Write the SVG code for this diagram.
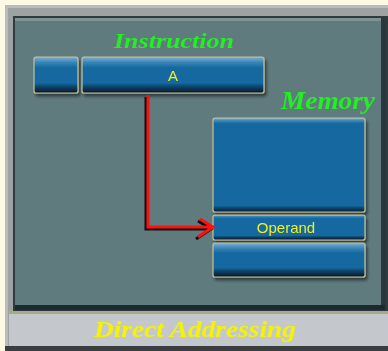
<svg xmlns="http://www.w3.org/2000/svg" width="388" height="351" viewBox="0 0 388 351">
<defs>
<style>
.box{fill:url(#boxg);stroke:#c8c49a;stroke-width:1.2}
.lbl{font-family:"Liberation Sans",Arial,sans-serif;font-size:15px;fill:#f0f020;text-anchor:middle}
.script{font-family:"Liberation Serif","DejaVu Serif",serif;font-style:italic;font-weight:bold;text-anchor:middle}
.arrow{fill:none;stroke-width:3;stroke-linejoin:miter}
</style>
<linearGradient id="boxg" x1="0" y1="0" x2="0" y2="1">
<stop offset="0" stop-color="#7fb0d0"/>
<stop offset="0.06" stop-color="#3a86b8"/>
<stop offset="0.14" stop-color="#1468a0"/>
<stop offset="0.82" stop-color="#1468a0"/>
<stop offset="0.9" stop-color="#0a3a5c"/>
<stop offset="1" stop-color="#04182a"/>
</linearGradient>
<linearGradient id="boxs" x1="0" y1="0" x2="0" y2="1">
<stop offset="0" stop-color="#7fb0d0"/>
<stop offset="0.15" stop-color="#3a86b8"/>
<stop offset="0.3" stop-color="#1468a0"/>
<stop offset="0.72" stop-color="#1468a0"/>
<stop offset="0.86" stop-color="#0a3a5c"/>
<stop offset="1" stop-color="#04182a"/>
</linearGradient>
<linearGradient id="boxt" x1="0" y1="0" x2="0" y2="1">
<stop offset="0" stop-color="#7fb0d0"/>
<stop offset="0.03" stop-color="#3a86b8"/>
<stop offset="0.06" stop-color="#1468a0"/>
<stop offset="0.93" stop-color="#1468a0"/>
<stop offset="0.97" stop-color="#0a3a5c"/>
<stop offset="1" stop-color="#04182a"/>
</linearGradient>
<filter id="sh" x="-10%" y="-10%" width="130%" height="140%">
<feGaussianBlur in="SourceAlpha" stdDeviation="1.5"/>
<feOffset dx="2" dy="3"/>
<feComponentTransfer><feFuncA type="linear" slope="0.5"/></feComponentTransfer>
<feMerge><feMergeNode/><feMergeNode in="SourceGraphic"/></feMerge>
</filter>
<filter id="soft"><feGaussianBlur stdDeviation="0.5"/></filter>
</defs>

<!-- background and frame -->
<rect x="0" y="0" width="388" height="351" fill="#fcfae4"/>
<rect x="5" y="5" width="383" height="346" fill="#9ea2a2"/>
<rect x="5" y="5" width="383" height="3" fill="#b8bcbc"/>
<rect x="5" y="5" width="3" height="346" fill="#b8bcbc"/>
<rect x="5" y="346" width="383" height="5" fill="#3a3e40"/>
<rect x="9" y="310" width="379" height="36" fill="#c4c8cc"/>
<rect x="9" y="310" width="379" height="4" fill="#a8a88a"/>
<rect x="13" y="16" width="375" height="295" fill="#2e3c40"/>
<rect x="15" y="18" width="368" height="289" fill="#5f7b7e"/>
<rect x="15" y="18" width="368" height="3" fill="#7c9496"/>
<rect x="381" y="18" width="5" height="292" fill="#28383c"/>
<rect x="15" y="305" width="370" height="5" fill="#1c2a2e"/>

<!-- titles -->
<text class="script" x="174" y="48" font-size="22" fill="#22f022" filter="url(#soft)" textLength="120" lengthAdjust="spacingAndGlyphs">Instruction</text>
<text class="script" x="328" y="109" font-size="25" fill="#22f022" filter="url(#soft)" textLength="94" lengthAdjust="spacingAndGlyphs">Memory</text>
<text class="script" x="195" y="337" font-size="23" fill="#f4f400" filter="url(#soft)" textLength="202" lengthAdjust="spacingAndGlyphs">Direct Addressing</text>

<!-- instruction nodes -->
<g id="instr-mode" filter="url(#sh)">
<rect class="box" x="34" y="57" width="44" height="36" rx="2" style="fill:url(#boxs)"/>
</g>
<g id="instr-address" filter="url(#sh)">
<rect class="box" x="82" y="57" width="182" height="36" rx="2" style="fill:url(#boxs)"/>
<text class="lbl" x="173" y="81" font-size="16">A</text>
</g>

<!-- memory nodes -->
<g id="mem-top" filter="url(#sh)">
<rect class="box" x="213" y="118" width="152" height="94" rx="2" style="fill:url(#boxt)"/>
</g>
<g id="mem-operand" filter="url(#sh)">
<rect class="box" x="213" y="215" width="152" height="25" rx="2"/>
<text class="lbl" x="286" y="233">Operand</text>
</g>
<g id="mem-bottom" filter="url(#sh)">
<rect class="box" x="213" y="243" width="152" height="34" rx="2" style="fill:url(#boxs)"/>
</g>

<!-- connectors -->
<g id="connectors">
<path class="arrow" stroke="#101010" d="M146,97 V229 H211 M198,221 L211,229 L196,239"/>
<path class="arrow" stroke="#ff1010" d="M148,95 V227 H213 M200,219 L213,227 L198,237"/>
</g>
</svg>
